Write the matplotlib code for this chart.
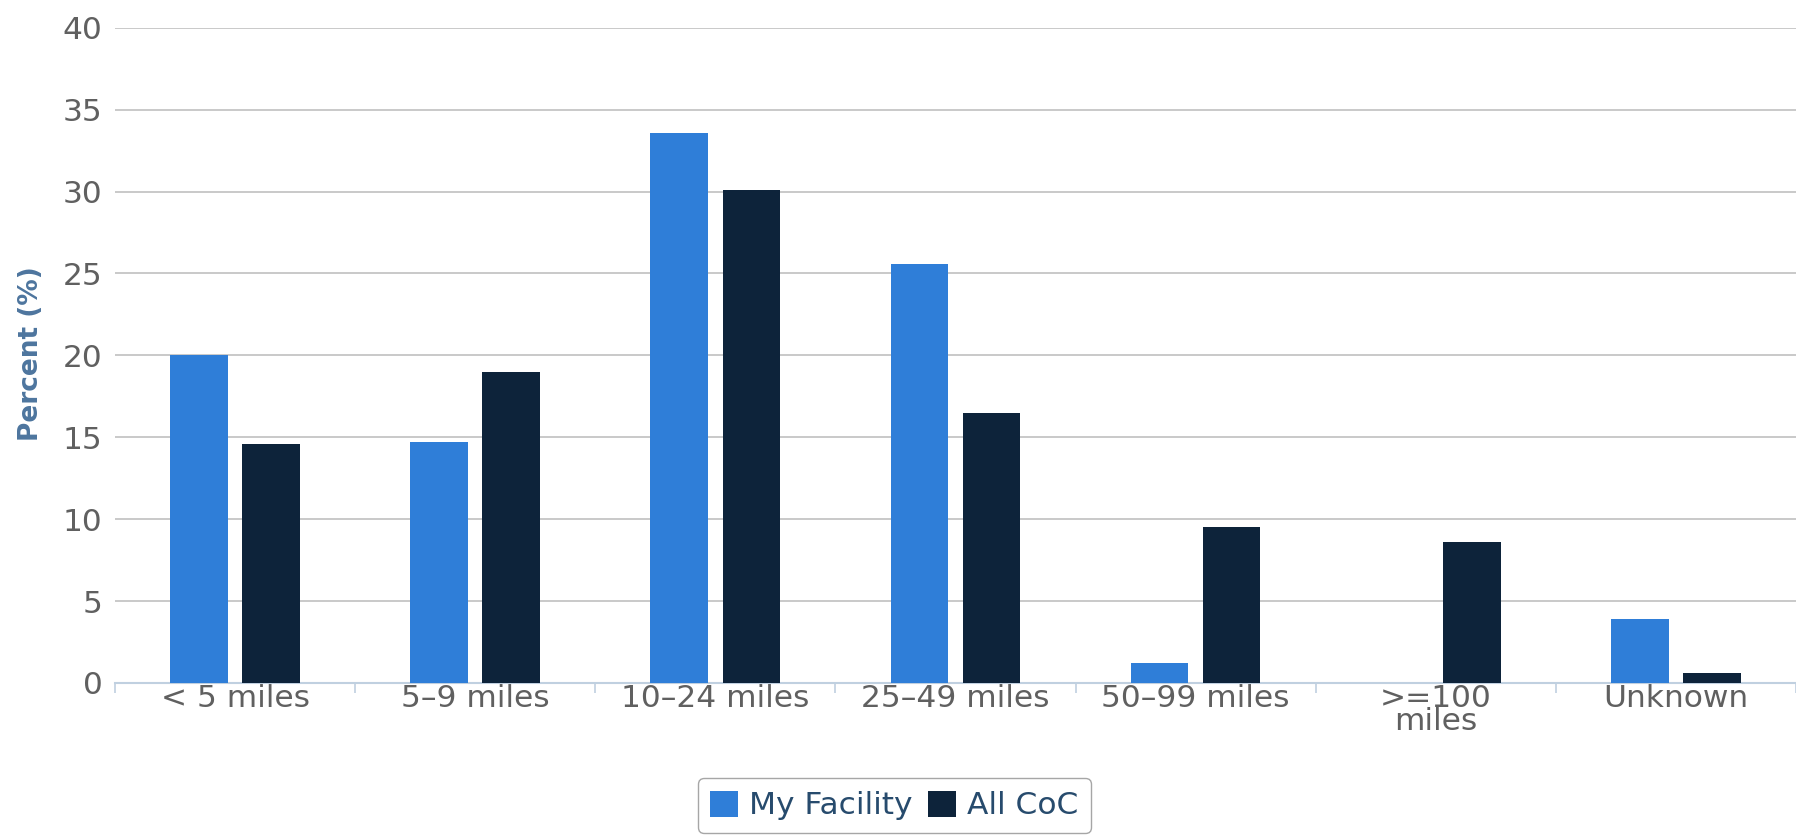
import numpy as np
import matplotlib.pyplot as plt
from matplotlib.patches import Patch

# data
categories = ["< 5 miles", "5–9 miles", "10–24 miles", "25–49 miles",
              "50–99 miles", ">=100\nmiles", "Unknown"]
my_facility = [20.0, 14.7, 33.6, 25.6, 1.2, 0.0, 3.9]
all_coc = [14.6, 19.0, 30.1, 16.5, 9.5, 8.6, 0.6]

blue = "#2f7ed8"
navy = "#0d233a"

plt.rcParams['font.family'] = ['DejaVu Sans']

fig = plt.figure(figsize=(17.96, 8.39), dpi=100)
ax = fig.add_axes([0.064, 0.186, 0.936, 0.781])

x = np.arange(len(categories))
w = 0.24
ax.bar(x - 0.15, my_facility, w, color=blue, zorder=3)
ax.bar(x + 0.15, all_coc, w, color=navy, zorder=3)

ax.set_xlim(-0.5, len(categories) - 0.5)
ax.set_ylim(0, 40)
ax.set_yticks(range(0, 41, 5))
ax.yaxis.grid(True, color="#c0c0c0", linewidth=1.2, zorder=0)
ax.set_xticks(x)
ax.set_xticklabels(categories, linespacing=0.72)
ax.set_xticks(np.arange(len(categories) + 1) - 0.5, minor=True)
ax.tick_params(axis="x", which="major", length=0, pad=1, labelsize=22.5, labelcolor="#606060")
ax.tick_params(axis="x", which="minor", length=7, color="#c0d0e0", width=1.2)
ax.tick_params(axis="y", length=0, pad=9, labelsize=22.5, labelcolor="#606060")

for s in ["top", "right", "left"]:
    ax.spines[s].set_visible(False)
ax.spines["bottom"].set_color("#c0d0e0")
ax.spines["bottom"].set_linewidth(1.5)

fig.text(0.017, 0.578, "Percent (%)", rotation=90, ha="center", va="center",
         fontsize=19, fontweight="bold", color="#4d759e")

handles = [Patch(facecolor=blue, label="My Facility"),
           Patch(facecolor=navy, label="All CoC")]
leg = fig.legend(handles=handles, loc="center", bbox_to_anchor=(0.498, 0.04),
                 ncol=2, fontsize=22.5, frameon=True, fancybox=True,
                 edgecolor="#909090", handlelength=0.9, handleheight=0.9,
                 handletextpad=0.35, columnspacing=0.5, borderpad=0.4)
for t in leg.get_texts():
    t.set_color("#274b6d")

fig.savefig("out.png", dpi=100)
